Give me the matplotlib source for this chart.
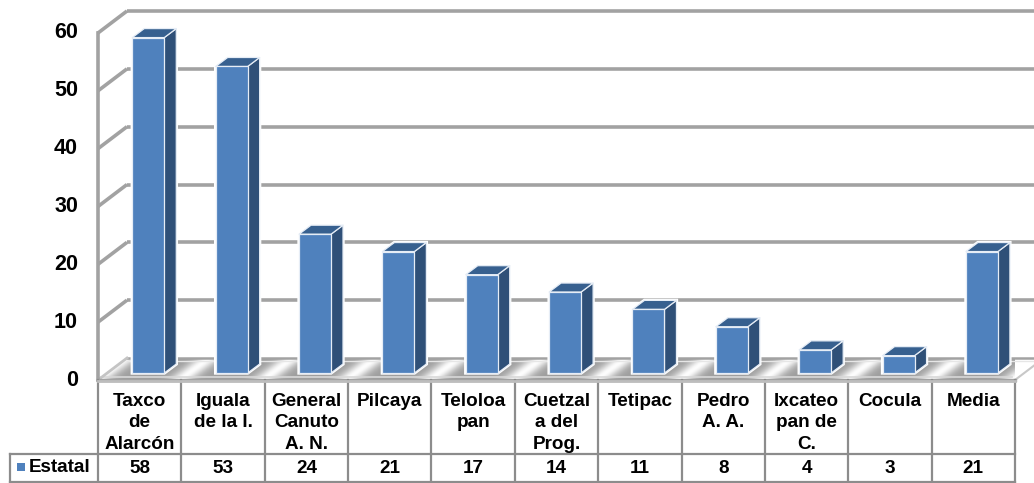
import numpy as np
import matplotlib
matplotlib.use("Agg")
import matplotlib.pyplot as plt
from matplotlib.patches import Polygon

categories = ["Taxco\nde\nAlarcón", "Iguala\nde la I.", "General\nCanuto\nA. N.", "Pilcaya",
              "Teloloa\npan", "Cuetzal\na del\nProg.", "Tetipac", "Pedro\nA. A.",
              "Ixcateo\npan de\nC.", "Cocula", "Media"]
values = [58, 53, 24, 21, 17, 14, 11, 8, 4, 3, 21]
series_name = "Estatal"
yticks = [0, 10, 20, 30, 40, 50, 60]

W, H = 1034, 483
plt.rcParams["font.family"] = ["Liberation Sans", "DejaVu Sans"]
fig = plt.figure(figsize=(W / 100, H / 100), dpi=100, facecolor="white")

L, R, Y0, Y60 = 98.0, 1015.0, 380.0, 33.0
ax = fig.add_axes([L / W, 1 - Y0 / H, (R - L) / W, (Y0 - Y60) / H])
ax.axis("off")
n_px_x = (R - L) / 11
n_px_y = (Y0 - Y60) / 60
def px(dx, dy):
    return dx / n_px_x, dy / n_px_y

GRID = "#a2a2a2"
FRONT = "#4f81bd"
SIDE = "#2f5078"
TOP = "#37608f"
ddx, ddy = px(29, 22)
x0, x1 = -0.5, 10.5

gx = np.linspace(x0, x1 + ddx, 1200)
gy = np.linspace(0, ddy, 40)
XX, YY = np.meshgrid(gx, gy)
u = (XX - x0) - (YY / ddy) * ddx
phase = (u - 0.98 + 0.5) % 1.0 - 0.5
sheen = 0.62 + 0.37 * np.exp(-(phase / 0.15) ** 2)
im = ax.imshow(sheen, extent=(x0, x1 + ddx, 0, ddy), origin="lower", aspect="auto", cmap="gray",
               vmin=0, vmax=1, zorder=1)
floor = Polygon([(x0, 0), (x1, 0), (x1 + ddx, ddy), (x0 + ddx, ddy)], closed=True, transform=ax.transData,
                fc="none", ec="none")
ax.add_patch(floor)
im.set_clip_path(floor)
ax.set_xlim(x0, x1)
ax.set_ylim(0, 60)

_, strip = px(0, 3)
ax.plot([x0 + 0.03, x1 - 0.03], [strip, strip], color="#d8d8d8", lw=1.2, zorder=1.5, clip_on=False)
ax.plot([x0 + ddx, x1 + ddx], [ddy - strip, ddy - strip], color="#e6e6e6", lw=1.0, zorder=1.5, clip_on=False)
ax.plot([x0 + ddx, x1 + ddx], [ddy, ddy], color=GRID, lw=1.8, zorder=1.6, clip_on=False)

for v in yticks:
    if v > 0:
        ax.plot([x0 + ddx, x1 + ddx], [v + ddy] * 2, color=GRID, lw=2.6, zorder=2, clip_on=False, solid_capstyle="butt")
        ax.plot([x0, x0 + ddx], [v, v + ddy], color=GRID, lw=2.6, zorder=2, clip_on=False, solid_capstyle="butt")
ax.plot([x0, x0 + ddx], [0, ddy], color="#c4c4c4", lw=2, zorder=2, clip_on=False)
ax.plot([x0, x0], [0, 60], color=GRID, lw=2.6, zorder=2, clip_on=False)
ax.plot([x1, x1 + ddx], [0, ddy], color="#c8c8c8", lw=1.5, zorder=2, clip_on=False)
ax.plot([x0, x1], [0, 0], color=GRID, lw=2.4, zorder=2, clip_on=False)

bw = 32 / n_px_x
sx, sy = px(12, 9)
bx, by = px(8.6, 7)
for i, v in enumerate(values):
    a = i - bw / 2 + bx
    b = i + bw / 2 + bx
    base = by
    top = v + by
    kw = dict(closed=True, ec="#e6edf6", lw=0.9, zorder=3 + i * 0.01, clip_on=False, joinstyle="round")
    ax.add_patch(Polygon([(a, base), (b, base), (b + sx, base + sy), (b + sx, top + sy), (a + sx, top + sy), (a, top)],
                         closed=True, fc="white", ec="white", lw=2.4, zorder=2.5, clip_on=False))
    ax.add_patch(Polygon([(b, base), (b + sx, base + sy), (b + sx, top + sy), (b, top)], fc=SIDE, **kw))
    ax.add_patch(Polygon([(a, top), (b, top), (b + sx, top + sy), (a + sx, top + sy)], fc=TOP, **kw))
    ax.add_patch(Polygon([(a, base), (b, base), (b, top), (a, top)], fc=FRONT, **kw))

for v in yticks:
    ax.text(-0.5 - 20 / n_px_x, v, str(v), ha="right", va="center", fontsize=15.5, fontweight="bold",
            color="black", clip_on=False)

tb = fig.add_axes([L / W, 1 - 483 / H, (R - L) / W, (483 - Y0) / H])
tb.set_xlim(-0.5, 10.5)
tb.set_ylim(483, Y0)
tb.axis("off")
TBL = "#8c8c8c"
for k in range(12):
    tb.plot([k - 0.5] * 2, [Y0, 483], color=TBL, lw=1.6, clip_on=False)
tb.plot([x0, x1], [Y0 + 1, Y0 + 1], color="#bdbdbd", lw=2, clip_on=False)
left = -0.5 - 88 / n_px_x
tb.plot([left, x1], [453.5, 453.5], color=TBL, lw=1.6, clip_on=False)
tb.plot([left, x1], [482, 482], color=TBL, lw=1.6, clip_on=False)
tb.plot([left, left], [453.5, 483], color=TBL, lw=1.6, clip_on=False)
for i, (c, v) in enumerate(zip(categories, values)):
    tb.text(i, 392.5, c, ha="center", va="top", fontsize=13.6, fontweight="bold", linespacing=1.36, color="black")
    tb.text(i, 468.5, str(v), ha="center", va="center", fontsize=13.6, fontweight="bold", color="black")
tb.plot([-0.5 - 77 / n_px_x], [467], marker="s", ms=5.2, color=FRONT, clip_on=False, mew=0)
tb.text(-0.5 - 7 / n_px_x, 468, series_name, ha="right", va="center", fontsize=13.6, fontweight="bold")

fig.savefig("out.png", dpi=100)
